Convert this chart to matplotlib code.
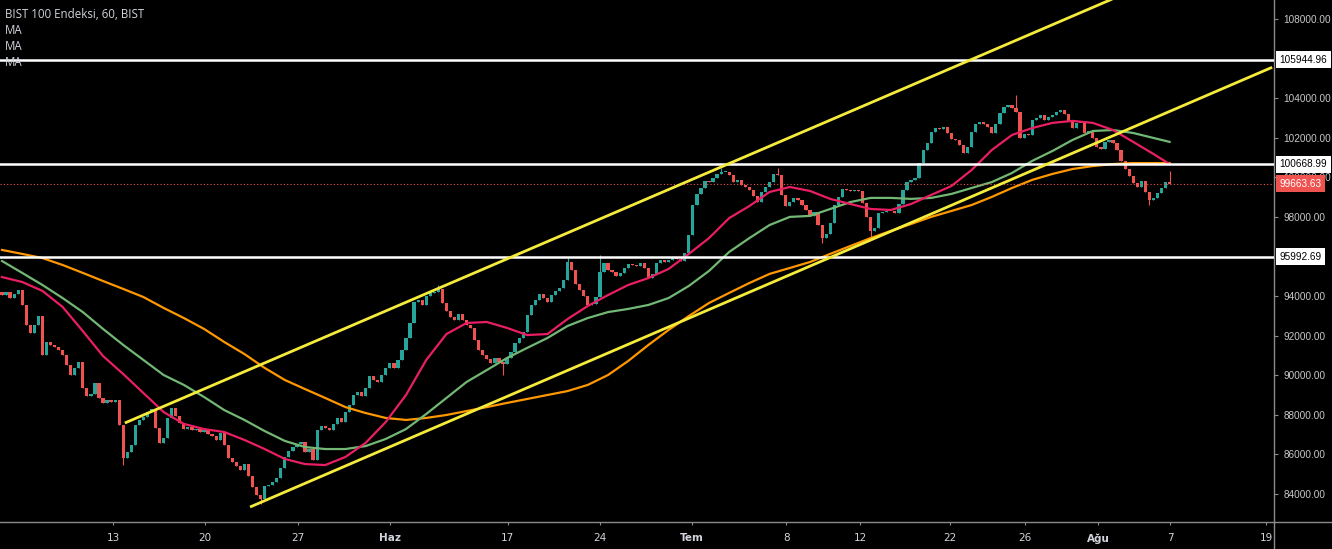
import numpy as np
import matplotlib.pyplot as plt
from matplotlib.lines import Line2D

# hourly closes (bar index = position on the time axis)
closes = [
    94050, 94210, 93900, 94100, 94310, 93550, 92540, 92130, 92540, 92990,
    91020, 91680, 91530, 91430, 91280, 91020, 90520, 90010, 90370, 90670,
    89350, 88950, 89050, 89610, 88850, 88600, 88750, 88650, 88750, 87490,
    85820, 86120, 86470, 87490, 87740, 87890, 88140, 88290, 87330, 86580,
    86830, 87840, 88340, 87940, 87590, 87280, 87380, 87230, 87280, 87130,
    87230, 87030, 86930, 86730, 87080, 86470, 85820, 85620, 85410, 85210,
    85510, 84910, 84350, 83950, 83750, 84400, 84450, 84610, 84810, 85310,
    85870, 86170, 86370, 86530, 86630, 86120, 86270, 85720, 87230, 87430,
    87330, 87230, 87540, 87840, 87640, 88140, 88500, 89000, 89150, 88950,
    89350, 89960, 89760, 89660, 90010, 90370, 90620, 90370, 90770, 91280,
    91880, 92640, 93700, 93800, 93550, 94000, 94160, 94210, 94360, 93650,
    93250, 92940, 92790, 93090, 92790, 92540, 92390, 91780, 91280, 91020,
    90820, 90620, 90870, 90670, 90570, 90870, 91170, 91630, 91880, 92180,
    93040, 93550, 93800, 94100, 93900, 93700, 94050, 94260, 94410, 94810,
    95720, 95320, 94610, 94310, 94000, 93550, 93600, 93950, 95220, 95670,
    95320, 95220, 95010, 95170, 95420, 95620, 95570, 95520, 95670, 95420,
    94910, 95120, 95670, 95820, 95720, 95820, 95920, 95870, 95770, 96180,
    97090, 98600, 99160, 99460, 99810, 99760, 99970, 100170, 100270, 100270,
    100120, 99760, 99870, 99610, 99510, 99360, 99060, 98750, 99260, 99510,
    99760, 100170, 100120, 99110, 98550, 98750, 98960, 98850, 98600, 98350,
    98050, 98250, 97590, 96930, 97140, 97690, 98600, 99010, 99410, 99360,
    99310, 99360, 99310, 98700, 98000, 97290, 97440, 98200, 98250, 98300,
    98300, 98200, 98650, 99360, 99760, 99870, 99970, 100720, 101380, 101730,
    102290, 102490, 102440, 102540, 102240, 101940, 101890, 101630, 101230, 101530,
    102290, 102690, 102800, 102690, 102540, 102240, 102690, 103250, 103550, 103650,
    103500, 103300, 101990, 102190, 102140, 102900, 103000, 103150, 102900, 103050,
    103150, 103300, 103400, 103200, 102850, 102490, 102750, 102750, 102240, 102340,
    101990, 101530, 101430, 101790, 101890, 101730, 101380, 100830, 100420, 100070,
    99710, 99510, 99810, 99260, 98850, 98960, 99210, 99460, 99760, 99663.63,
]
first_open = 94200
wick_highs = {108: 94560, 140: 95970, 148: 96070, 178: 100470, 192: 100470,
              251: 104160, 289: 100320}
wick_lows = {30: 85460, 64: 83500, 124: 90010, 203: 96680, 215: 96980, 284: 98600}

# moving averages sampled every 5 bars
ma_bars = list(range(0, 290, 5)) + [289]
ma_fast = [94960, 94710, 94260, 93450, 92230, 90970, 90060, 89100, 88140, 87540,
           87280, 87130, 86730, 86270, 85770, 85510, 85460, 85870, 86580, 87640,
           89000, 90770, 92080, 92640, 92690, 92390, 92030, 92080, 92840, 93500,
           94050, 94560, 94910, 95370, 96130, 96930, 97940, 98550, 99260, 99510,
           99310, 98910, 98650, 98400, 98350, 98650, 99110, 99560, 100370, 101380,
           102140, 102490, 102750, 102850, 102750, 102390, 101790, 101180, 100670]
ma_mid = [95770, 95170, 94560, 93900, 93190, 92340, 91530, 90770, 90010, 89510,
          88900, 88240, 87740, 87180, 86680, 86370, 86270, 86270, 86420, 86780,
          87280, 88040, 88850, 89660, 90260, 90870, 91380, 91880, 92490, 92890,
          93190, 93350, 93550, 93900, 94510, 95270, 96230, 96930, 97590, 98000,
          98050, 98400, 98750, 98960, 98960, 98910, 98960, 99160, 99460, 99760,
          100220, 100830, 101330, 101890, 102340, 102390, 102240, 101990, 101790]
ma_slow = [96330, 96130, 95920, 95570, 95170, 94760, 94360, 93950, 93400, 92890,
           92340, 91680, 91070, 90370, 89760, 89300, 88850, 88390, 88090, 87840,
           87740, 87840, 87990, 88190, 88390, 88600, 88800, 89000, 89200, 89510,
           90010, 90720, 91530, 92290, 92990, 93650, 94160, 94660, 95120, 95420,
           95720, 96130, 96530, 96930, 97290, 97640, 98000, 98300, 98600, 99010,
           99460, 99870, 100170, 100420, 100570, 100670, 100720, 100720, 100720]

levels = [105944.96, 100668.99, 95992.69]
last_price = 99663.63

# trend channel drawings: (bar, price) anchors
upper_bars, upper_prices = [30.4, 290.0], [87586, 110340]
lower_bars, lower_prices = [61.4, 314.4], [83341, 105560]

tick_bars = [27.5, 50.2, 73.3, 96.0, 125.2, 148.0, 170.8, 194.1, 212.4,
             234.7, 253.2, 271.3, 289.1, 312.9]
tick_labels = ['13', '20', '27', 'Haz', '17', '24', 'Tem', '8', '12',
               '22', '26', 'Ağu', '7', '19']
month_labels = ['Haz', 'Tem', 'Ağu']
# 96000 and 106000 sit fully behind the level labels, so they are left out
price_ticks = [84000, 86000, 88000, 90000, 92000, 94000, 98000,
               100000, 102000, 104000, 108000]

UP, DOWN = '#26a69a', '#ef5350'
AXIS_C = '#8a8a8a'
TEXT_C = '#d1d4dc'

W, H = 1332, 549
fig = plt.figure(figsize=(W / 100, H / 100), dpi=100, facecolor='black')
ax = fig.add_axes([0, 27 / H, 1274 / W, 522 / H])
ax.set_facecolor('black')

closes = np.array(closes, dtype=float)
opens = np.concatenate([[first_open], closes[:-1]])
x = np.arange(len(closes))
highs = np.maximum(opens, closes)
lows = np.minimum(opens, closes)
for k, v in wick_highs.items():
    highs[k] = v
for k, v in wick_lows.items():
    lows[k] = v
colors = np.where(closes >= opens, UP, DOWN)
ax.vlines(x, lows, highs, colors=colors, lw=0.8, zorder=2)
body = np.maximum(np.abs(closes - opens), 30)
ax.bar(x, body, bottom=np.minimum(opens, closes), width=0.8, color=colors,
       linewidth=0, zorder=2)

ax.plot(ma_bars, ma_slow, color='#ff9800', lw=1.6, zorder=3)
ax.plot(ma_bars, ma_mid, color='#72b874', lw=1.6, zorder=3)
ax.plot(ma_bars, ma_fast, color='#e91e63', lw=1.6, zorder=3)

for lv in levels:
    ax.axhline(lv, color='white', lw=1.8, zorder=4)
ax.axhline(last_price, color=DOWN, lw=0.8, ls=(0, (1, 2)), zorder=3)

ax.plot(upper_bars, upper_prices, color='#f5eb3b', lw=2, zorder=5, solid_capstyle='butt')
ax.plot(lower_bars, lower_prices, color='#f5eb3b', lw=2, zorder=5, solid_capstyle='butt')

ax.set_xlim(-0.5, 314.85)
ax.set_ylim(82583, 108960)

ax.set_xticks(tick_bars)
ax.set_xticklabels(tick_labels)
for t in ax.get_xticklabels():
    if t.get_text() in month_labels:
        t.set_fontweight('bold')
ax.tick_params(axis='x', colors=AXIS_C, labelcolor=TEXT_C, labelsize=7.5,
               length=2, width=0.8, pad=6)

ax.yaxis.tick_right()
ax.set_yticks(price_ticks)
ax.set_yticklabels(['%.2f' % p for p in price_ticks], family='Liberation Sans')
ax.tick_params(axis='y', colors=AXIS_C, labelcolor='#c8c8c8', labelsize=7.2,
               length=3, width=0.8, pad=4)

for side in ['top', 'left']:
    ax.spines[side].set_visible(False)
for side in ['bottom', 'right']:
    ax.spines[side].set_color(AXIS_C)
    ax.spines[side].set_linewidth(1)

# price labels on the scale
ytrans = ax.get_yaxis_transform()
for lv in levels:
    ax.text(1.0045, lv, '%.2f' % lv, transform=ytrans, ha='left', va='center',
            fontsize=7.2, family='Liberation Sans', color='black', zorder=10,
            clip_on=False,
            bbox=dict(boxstyle='square,pad=0.35', fc='white', ec='none'))
ax.text(1.0045, last_price, '%.2f' % last_price, transform=ytrans, ha='left',
        va='center', fontsize=7.2, family='Liberation Sans', color='white',
        zorder=10, clip_on=False,
        bbox=dict(boxstyle='square,pad=0.35', fc=DOWN, ec='none'))

# scale frame pieces outside the axes
fig.add_artist(Line2D([1274 / W, 1], [27 / H, 27 / H], color=AXIS_C, lw=1))
fig.add_artist(Line2D([1274 / W, 1274 / W], [0, 27 / H], color=AXIS_C, lw=1))

fig.text(5 / W, 1 - 14 / H, 'BIST 100 Endeksi, 60, BIST', color=TEXT_C,
         fontsize=8.3, family='Open Sans', va='center')
for i in range(3):
    fig.text(5 / W, 1 - (30 + 16 * i) / H, 'MA', color=TEXT_C, fontsize=8.3,
             family='Open Sans', va='center')

fig.savefig('out.png', dpi=100, facecolor='black')
